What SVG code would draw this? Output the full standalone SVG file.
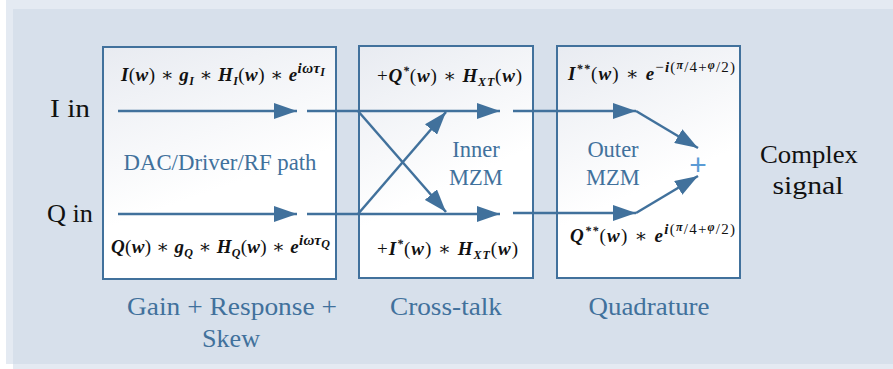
<svg xmlns="http://www.w3.org/2000/svg" width="893" height="369" viewBox="0 0 893 369">
  <defs>
    <linearGradient id="boxFill" x1="0" y1="0" x2="0.35" y2="1">
      <stop offset="0" stop-color="#e8ebf1"/>
      <stop offset="0.7" stop-color="#ffffff"/>
      <stop offset="1" stop-color="#ffffff"/>
    </linearGradient>
    <marker id="head" markerUnits="userSpaceOnUse" markerWidth="23" markerHeight="16" refX="23" refY="8" orient="auto">
      <path d="M0,0 L23,8 L0,16 Z" fill="#41719c"/>
    </marker>
    <style>
      .stage { fill: url(#boxFill); stroke: #41719c; stroke-width: 2; }
      .arrow { fill: none; stroke: #41719c; stroke-width: 2.5; marker-end: url(#head); }
      .serif { font-family: "Liberation Serif", "Times New Roman", Tinos, "DejaVu Serif", serif; }
      .port { font-size: 26px; fill: #111; }
      .blue { fill: #41719c; }
      .caption { font-size: 26px; text-anchor: middle; }
      .inner { font-size: 22.5px; text-anchor: middle; }
      .f { font-size: 19px; font-weight: bold; font-style: italic; fill: #111; }
      .u { font-weight: normal; font-style: normal; }
      .e { font-size: 15px; }
      .ee { font-size: 12px; }
      .plus { font-family: "Liberation Sans", Arimo, "DejaVu Sans", sans-serif; font-size: 30px; fill: #5b9bd5; text-anchor: middle; }
    </style>
  </defs>

  <!-- backdrop -->
  <rect x="0" y="0" width="893" height="369" fill="#ffffff"/>
  <rect x="6" y="0" width="887" height="364" fill="#e4eaf2"/>
  <rect x="13" y="364" width="880" height="5" fill="#e4eaf2"/>
  <rect x="13" y="9" width="880" height="355" fill="#d7e0eb"/>

  <!-- stage 1: gain, response and skew -->
  <g id="stage-gain">
    <rect class="stage" x="103" y="47" width="233" height="232"/>
    <text class="serif f" x="121" y="81" textLength="204" lengthAdjust="spacing">I<tspan class="u">(</tspan>w<tspan class="u">) ∗ </tspan>g<tspan class="ee" dy="4">I</tspan><tspan class="u" dy="-4"> ∗ </tspan>H<tspan class="ee" dy="4">I</tspan><tspan class="u" dy="-4">(</tspan>w<tspan class="u">) ∗ </tspan>e<tspan class="e" dy="-8">iωτ</tspan><tspan class="ee" dy="3">I</tspan></text>
    <text class="serif blue inner" x="220" y="170" textLength="193" lengthAdjust="spacingAndGlyphs">DAC/Driver/RF path</text>
    <text class="serif f" x="111" y="253" textLength="219" lengthAdjust="spacing">Q<tspan class="u">(</tspan>w<tspan class="u">) ∗ </tspan>g<tspan class="ee" dy="4">Q</tspan><tspan class="u" dy="-4"> ∗ </tspan>H<tspan class="ee" dy="4">Q</tspan><tspan class="u" dy="-4">(</tspan>w<tspan class="u">) ∗ </tspan>e<tspan class="e" dy="-8">iωτ</tspan><tspan class="ee" dy="3">Q</tspan></text>
  </g>

  <!-- stage 2: inner MZM cross-talk -->
  <g id="stage-crosstalk">
    <rect class="stage" x="359" y="46" width="174" height="232"/>
    <text class="serif f" x="377" y="82" textLength="145" lengthAdjust="spacing"><tspan class="u">+</tspan>Q<tspan class="ee" dy="-7">*</tspan><tspan class="u" dy="7">(</tspan>w<tspan class="u">) ∗ </tspan>H<tspan class="ee" dy="4">XT</tspan><tspan class="u" dy="-4">(</tspan>w<tspan class="u">)</tspan></text>
    <text class="serif blue inner" x="476" y="157">Inner</text>
    <text class="serif blue inner" x="476" y="185">MZM</text>
    <text class="serif f" x="377" y="255" textLength="141" lengthAdjust="spacing"><tspan class="u">+</tspan>I<tspan class="ee" dy="-7">*</tspan><tspan class="u" dy="7">(</tspan>w<tspan class="u">) ∗ </tspan>H<tspan class="ee" dy="4">XT</tspan><tspan class="u" dy="-4">(</tspan>w<tspan class="u">)</tspan></text>
  </g>

  <!-- stage 3: outer MZM quadrature -->
  <g id="stage-quadrature">
    <rect class="stage" x="557" y="46" width="183" height="232"/>
    <text class="serif f" x="568" y="80" textLength="167" lengthAdjust="spacing">I<tspan class="ee" dy="-7">**</tspan><tspan class="u" dy="7">(</tspan>w<tspan class="u">) ∗ </tspan>e<tspan class="e" dy="-8"><tspan class="u">−</tspan>i<tspan class="u">(</tspan></tspan><tspan class="ee" dy="-3">π</tspan><tspan class="e u" dy="3">/4+</tspan><tspan class="ee" dy="-3">φ</tspan><tspan class="e u" dy="3">/2)</tspan></text>
    <text class="serif blue inner" x="613" y="157">Outer</text>
    <text class="serif blue inner" x="613" y="185">MZM</text>
    <text class="plus" x="698" y="175">+</text>
    <text class="serif f" x="570" y="242" textLength="165" lengthAdjust="spacing">Q<tspan class="ee" dy="-7">**</tspan><tspan class="u" dy="7">(</tspan>w<tspan class="u">) ∗ </tspan>e<tspan class="e" dy="-8">i<tspan class="u">(</tspan></tspan><tspan class="ee" dy="-3">π</tspan><tspan class="e u" dy="3">/4+</tspan><tspan class="ee" dy="-3">φ</tspan><tspan class="e u" dy="3">/2)</tspan></text>
  </g>

  <!-- port labels -->
  <g id="input-i"><text class="serif port" x="50" y="117" textLength="40" lengthAdjust="spacingAndGlyphs">I in</text></g>
  <g id="input-q"><text class="serif port" x="47" y="222" textLength="46" lengthAdjust="spacingAndGlyphs">Q in</text></g>
  <g id="output">
    <text class="serif port" x="809" y="163" text-anchor="middle" textLength="98" lengthAdjust="spacingAndGlyphs">Complex</text>
    <text class="serif port" x="808" y="194" text-anchor="middle" textLength="71" lengthAdjust="spacingAndGlyphs">signal</text>
  </g>

  <!-- stage captions -->
  <g id="captions">
    <text class="serif blue caption" x="232" y="315" textLength="210" lengthAdjust="spacingAndGlyphs">Gain + Response +</text>
    <text class="serif blue caption" x="231" y="347" textLength="58" lengthAdjust="spacingAndGlyphs">Skew</text>
    <text class="serif blue caption" x="446" y="315" textLength="112" lengthAdjust="spacingAndGlyphs">Cross-talk</text>
    <text class="serif blue caption" x="649" y="315" textLength="121" lengthAdjust="spacingAndGlyphs">Quadrature</text>
  </g>

  <!-- signal paths -->
  <g id="connectors">
    <line class="arrow" x1="118" y1="111" x2="297" y2="111"/>
    <line class="arrow" x1="118" y1="214" x2="297" y2="214"/>
    <line class="arrow" x1="307" y1="111" x2="500" y2="111"/>
    <line class="arrow" x1="307" y1="214" x2="500" y2="214"/>
    <line class="arrow" x1="358" y1="111" x2="446" y2="212"/>
    <line class="arrow" x1="358" y1="214" x2="446" y2="112"/>
    <line class="arrow" x1="513" y1="111" x2="636" y2="111"/>
    <line class="arrow" x1="513" y1="213" x2="636" y2="213"/>
    <line class="arrow" x1="636" y1="111" x2="698" y2="148"/>
    <line class="arrow" x1="636" y1="213" x2="698" y2="176"/>
  </g>
</svg>
